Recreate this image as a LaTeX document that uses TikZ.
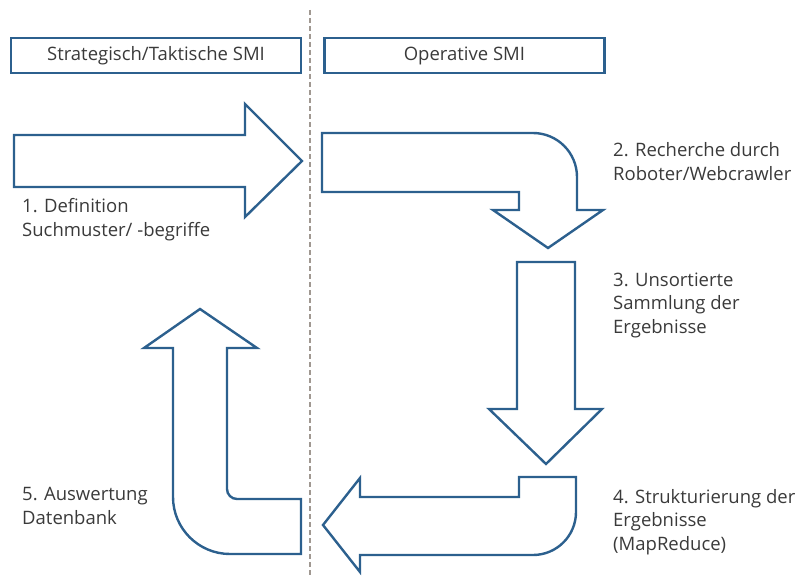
\documentclass[tikz,border=0pt]{standalone}
\usepackage{fontspec}
\setmainfont{Open Sans}
\usepackage{tikz}
\usetikzlibrary{positioning}
\definecolor{smiblue}{RGB}{44,96,142}
\definecolor{smitext}{RGB}{58,58,58}
\definecolor{smigray}{RGB}{160,152,145}
\tikzstyle{header} = [rectangle,
minimum width=290pt,
minimum height=35pt,
text centered,
draw=smiblue, line width=2.4pt,
text=smitext, font=\fontsize{18.5}{23}\selectfont]
\tikzstyle{steptext} = [anchor=base west, inner sep=0pt,
align=left, text=smitext,
font=\fontsize{18.5}{23.5}\selectfont]
\tikzstyle{blockarrow} = [draw=smiblue, line width=2.4pt, line join=miter, fill=white]

\begin{document}
\begin{tikzpicture}[x=1pt, y=-1pt]
    \useasboundingbox (0,0) rectangle (798,578);
    \draw [smigray, line width=2.4pt, dash pattern=on 5pt off 3pt] (310,10) -- (310,578);

    \node (strat) [header] at (156,55.5) {Strategisch/Taktische SMI};
    \node (oper) [header, minimum width=280pt, right=21pt of strat] {Operative SMI};

    % 1 -> right
    \draw [blockarrow] (14,135) -- (245,135) -- (245,104) -- (302,161) -- (245,217) -- (245,187) -- (14,187) -- cycle;
    % 2 -> bend down
    \draw [blockarrow] (322,133) -- (533,133) arc[start angle=90, end angle=0, radius=44pt]
        -- (577,210) -- (603,210) -- (548,248) -- (493,210) -- (519,210) -- (519,192) -- (322,192) -- cycle;
    % 3 -> down
    \draw [blockarrow] (517,262) -- (575,262) -- (575,409) -- (602,409) -- (546,464) -- (489,409) -- (517,409) -- cycle;
    % 4 -> bend left
    \draw [blockarrow] (519,477) -- (576,477) -- (576,512) arc[start angle=0, end angle=-90, radius=43pt]
        -- (360,555) -- (360,572) -- (323,525) -- (360,478) -- (360,497) -- (519,497) -- cycle;
    % 5 -> bend up
    \draw [blockarrow] (301,554) -- (230,554) arc[start angle=-90, end angle=-180, radius=57pt]
        -- (173,348) -- (144,348) -- (200,309) -- (257,348) -- (227,348) -- (227,489)
        arc[start angle=180, end angle=270, radius=10pt] -- (301,499) -- cycle;

    % texts: placed at the baseline of their last line
    \node (def) [steptext] at (22,236) {1. Definition\\Suchmuster/ -begriffe};
    \node (rech) [steptext] at (613,180) {2. Recherche durch\\Roboter/Webcrawler};
    \node (samm) [steptext] at (613,333) {3. Unsortierte\\Sammlung der\\Ergebnisse};
    \node (strukt) [steptext] at (613,550) {4. Strukturierung der\\Ergebnisse\\(MapReduce)};
    \node (ausw) [steptext] at (22,524) {5. Auswertung\\Datenbank};
\end{tikzpicture}
\end{document}
